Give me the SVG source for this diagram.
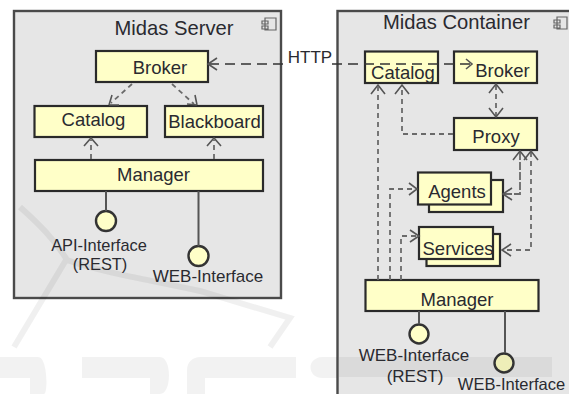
<svg xmlns="http://www.w3.org/2000/svg" width="569" height="394" viewBox="0 0 569 394">
<defs>
<style>
text{font-family:"Liberation Sans",Arial,sans-serif;fill:#2a2a30;text-anchor:middle}
.t{font-size:20.200px}.l{font-size:18.500px}.i{font-size:17px}.a{font-size:16.400px}.e{font-size:16.500px}
.c{fill:#e6e6e6;stroke:#4a4a4a;stroke-width:2.400}
.b{fill:#ffffc8;stroke:#2a2a2a;stroke-width:2.200}
.o{fill:#ffffc8;stroke:#333;stroke-width:2.400}
.d{fill:none;stroke:#6a6a6a;stroke-width:1.800;stroke-dasharray:5 4}
.k{fill:none;stroke:#333;stroke-width:1.600;stroke-dasharray:10 6}
.s{fill:none;stroke:#555;stroke-width:2}
.h{fill:none;stroke:#555;stroke-width:1.600}
.w{fill:none;stroke:#000;stroke-opacity:.06;stroke-width:6}
.g{fill:none;stroke:#666;stroke-width:1.200}
</style>
</defs>
<rect width="569" height="394" fill="#ffffff"/>
<g id="midas-server">
<rect class="c" x="14" y="11" width="267" height="287"/>
<text class="t" x="174" y="35">Midas Server</text>
<path class="g" d="M265 18H276V30H265ZM262 21H268V24H262ZM262 26H268V29H262Z"/>
</g>
<g id="midas-container">
<rect class="c" x="337.500" y="11" width="240" height="394"/>
<text class="t" x="456.500" y="29">Midas Container</text>
<path class="g" d="M557 17H567V29H557ZM554 20H560V23H554ZM554 25H560V28H554Z"/>
</g>
<g id="watermark">
<path class="w" d="M20 207C40 225 55 240 67 260C100 272 150 280 200 291L290 318L270 347M66 260L14 347"/>
<path fill="#000" fill-opacity=".05" d="M339 357H552V377H339Z"/>
<path fill="#000" fill-opacity=".05" d="M0 357H38C48 357 48 394 44 394H30V378H0ZM82 357H160C172 357 172 394 160 394H150V378H82ZM200 357H296V378H205V394H187V370C187 362 193 357 200 357ZM322 357H337V378H322C312 378 308 368 312 362C314 359 318 357 322 357Z"/>
</g>
<g id="server-broker"><rect class="b" x="96" y="51" width="112" height="31"/><text class="l" x="160" y="74">Broker</text></g>
<g id="server-catalog"><rect class="b" x="34.500" y="106" width="112.500" height="31"/><text class="l" x="93.500" y="126">Catalog</text></g>
<g id="server-blackboard"><rect class="b" x="165" y="106" width="98" height="31"/><text class="l" x="214.500" y="128">Blackboard</text></g>
<g id="server-manager"><rect class="b" x="35" y="160" width="228" height="31"/><text class="l" x="153.500" y="181">Manager</text></g>
<g id="api-interface"><circle class="o" cx="106" cy="221" r="10"/><text class="a" x="99" y="251">API-Interface</text><text class="a" x="100" y="270">(REST)</text></g>
<g id="server-web-interface"><circle class="o" cx="198.500" cy="256" r="10"/><text class="i" x="208" y="282">WEB-Interface</text></g>
<g id="container-catalog"><rect class="b" x="365" y="51.500" width="73" height="31.500"/><text class="l" x="403" y="79">Catalog</text></g>
<g id="container-broker"><rect class="b" x="454" y="51.500" width="83" height="31.500"/><text class="l" x="502.500" y="77">Broker</text></g>
<g id="proxy"><rect class="b" x="454" y="118" width="83" height="32"/><text class="l" x="496" y="143">Proxy</text></g>
<g id="agents"><rect class="b" x="429" y="180" width="74" height="32"/><rect class="b" x="418" y="172.500" width="73" height="32"/><text class="l" x="457" y="198">Agents</text></g>
<g id="services"><rect class="b" x="426.500" y="234" width="73.500" height="32"/><rect class="b" x="419" y="227" width="74" height="32"/><text class="l" x="458" y="255">Services</text></g>
<g id="container-manager"><rect class="b" x="365.500" y="280" width="173" height="31"/><text class="l" x="457" y="306">Manager</text></g>
<g id="container-web-rest"><circle class="o" cx="419" cy="334" r="9.500"/><text class="i" x="414" y="361">WEB-Interface</text><text class="i" x="415" y="382">(REST)</text></g>
<g id="container-web"><circle class="o" cx="504" cy="363" r="9.500" style="fill:#eeeeb8"/><text class="e" x="511.500" y="390">WEB-Interface</text></g>
<g id="connectors">
<path class="k" d="M209 64H288M332 64H470"/>
<path class="h" d="M217 58L208 64L217 70M466 59L472 64L466 69"/>
<path class="d" d="M132 84L111 103M172 84L194 104"/>
<path class="h" d="M109 105L119 105M109 105L112 95M197 105L187 104M197 105L195 95"/>
<path class="d" d="M91 159V140M214 159V140"/>
<path class="h" d="M84 146L91 138L98 146M207 146L214 138L221 146"/>
<path class="s" d="M106 191V211M198.500 191V246M419 311V324M505 311V353"/>
<path class="d" d="M496 85V116"/>
<path class="h" d="M489 93L496 84L503 93M489 108L496 117L503 108"/>
<path class="d" d="M453 134H402V86"/>
<path class="h" d="M395 94L402 85L409 94M371 94L378 85L385 94"/>
<path class="d" d="M378 86V280M390 280V189H416M401 280V236H417"/>
<path class="h" d="M409 183L417 189L409 195M410 230L419 236L410 242"/>
<path class="d" d="M520 152V194H504" stroke-dasharray="8 2" style="stroke-dasharray:8 2"/>
<path class="d" d="M531 152V250H503"/>
<path class="h" d="M513 160L520 151L527 160M524 160L531 151L538 160M512 188L503 194L512 200M511 244L502 250L511 256"/>
</g>
<text class="i" x="310" y="63">HTTP</text>
</svg>
